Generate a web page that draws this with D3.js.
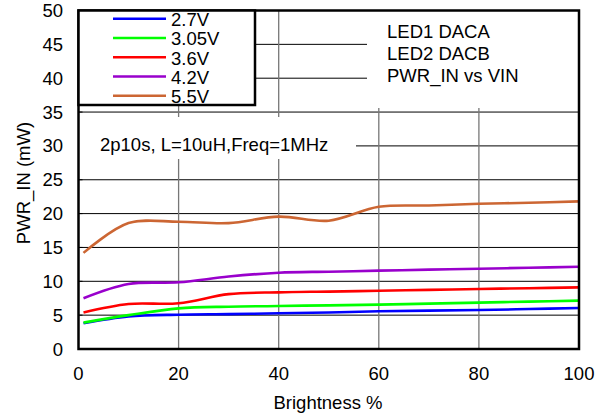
<!DOCTYPE html>
<html><head><meta charset="utf-8">
<script src="https://cdn.jsdelivr.net/npm/d3@7/dist/d3.min.js"></script>
<style>body{margin:0;background:#fff}svg{display:block;font-family:"Liberation Sans",Arial,sans-serif}</style>
</head><body><svg id="c" width="607" height="414"></svg>
<script>
const brightness = [1, 10, 20, 30, 40, 50, 60, 70, 80, 90, 100];
const seriesNames = ["2.7V", "3.05V", "3.6V", "4.2V", "5.5V"];
const v27  = [3.8, 4.8, 5.07, 5.15, 5.27, 5.4, 5.57, 5.67, 5.76, 5.9, 6.06];
const v305 = [3.9, 5.0, 6.0, 6.25, 6.35, 6.45, 6.55, 6.7, 6.85, 7.0, 7.15];
const v36  = [5.4, 6.65, 6.75, 8.1, 8.37, 8.48, 8.6, 8.73, 8.86, 8.98, 9.1];
const v42  = [7.5, 9.6, 9.85, 10.7, 11.27, 11.42, 11.57, 11.72, 11.86, 12.0, 12.15];
const v55  = [14.2, 18.6, 18.8, 18.6, 19.55, 18.95, 21.0, 21.2, 21.45, 21.6, 21.8];
const xTicks = [0, 20, 40, 60, 80, 100];
const yTicks = [0, 5, 10, 15, 20, 25, 30, 35, 40, 45, 50];
const colors = ["#0000FF", "#00FF00", "#FF0000", "#9900CC", "#CC6633"];
const titleLines = ["LED1 DACA", "LED2 DACB", "PWR_IN vs VIN"];
const note = "2p10s, L=10uH,Freq=1MHz";

const values = [v27, v305, v36, v42, v55];
const svg = d3.select("#c");
const x = d3.scaleLinear().domain([0, 100]).range([78.5, 579]);
const y = d3.scaleLinear().domain([0, 50]).range([349, 10.5]);
const L = x(0), R = x(100), T = y(50), B = y(0);
const FS = 18.5;

// gridlines
svg.append("g").selectAll("line").data(yTicks.filter(d => d > 0 && d < 50)).join("line")
  .attr("x1", L).attr("x2", R).attr("y1", d => y(d)).attr("y2", d => y(d))
  .attr("stroke", "#000").attr("stroke-width", 1);
svg.append("g").selectAll("line").data(xTicks.filter(d => d > 0 && d < 100)).join("line")
  .attr("x1", d => x(d)).attr("x2", d => x(d)).attr("y1", T).attr("y2", B)
  .attr("stroke", "#777").attr("stroke-width", 1.3);

// inward ticks on y axis
svg.append("g").selectAll("line").data(yTicks).join("line")
  .attr("x1", L).attr("x2", L + 4).attr("y1", d => y(d)).attr("y2", d => y(d))
  .attr("stroke", "#000");

// data lines
const line = d3.line().x((d, i) => x(brightness[i])).y(d => y(d)).curve(d3.curveCatmullRom.alpha(0.5));
svg.append("g").selectAll("path").data(values).join("path")
  .attr("d", d => line(d)).attr("fill", "none")
  .attr("stroke", (d, i) => colors[i]).attr("stroke-width", 2.6);

// white boxes
svg.append("rect").attr("x", 367).attr("y", T).attr("width", R - 367).attr("height", 108 - T).attr("fill", "#fff");
svg.append("rect").attr("x", L).attr("y", 117).attr("width", 356 - L).attr("height", 42).attr("fill", "#fff");

// frame
svg.append("rect").attr("x", L).attr("y", T).attr("width", R - L).attr("height", B - T)
  .attr("fill", "none").attr("stroke", "#000").attr("stroke-width", 2.5);

// legend
const lg = svg.append("g");
lg.append("rect").attr("x", L).attr("y", T).attr("width", 255 - L).attr("height", 105 - T)
  .attr("fill", "#fff").attr("stroke", "#000").attr("stroke-width", 2.5);
seriesNames.forEach((n, i) => {
  const yy = 18.7 + i * 19.25;
  lg.append("line").attr("x1", 113).attr("x2", 166).attr("y1", yy).attr("y2", yy)
    .attr("stroke", colors[i]).attr("stroke-width", 2.6);
  lg.append("text").attr("x", 171).attr("y", yy + 7.5).attr("font-size", FS).text(n);
});

// title text
titleLines.forEach((t, i) => {
  svg.append("text").attr("x", 387).attr("y", 38 + i * 22).attr("font-size", FS).text(t);
});
svg.append("text").attr("x", 100).attr("y", 151).attr("font-size", FS).text(note);

// tick labels
svg.append("g").selectAll("text").data(yTicks).join("text")
  .attr("x", 63).attr("y", d => y(d) + 6.5).attr("text-anchor", "end").attr("font-size", FS).text(d => d);
svg.append("g").selectAll("text").data(xTicks).join("text")
  .attr("x", d => x(d)).attr("y", 380).attr("text-anchor", "middle").attr("font-size", FS).text(d => d);

// axis titles
svg.append("text").attr("x", 328).attr("y", 409).attr("text-anchor", "middle").attr("font-size", FS).text("Brightness %");
svg.append("text").attr("transform", "translate(30,183) rotate(-90)").attr("text-anchor", "middle").attr("font-size", FS).text("PWR_IN (mW)");
</script></body></html>
